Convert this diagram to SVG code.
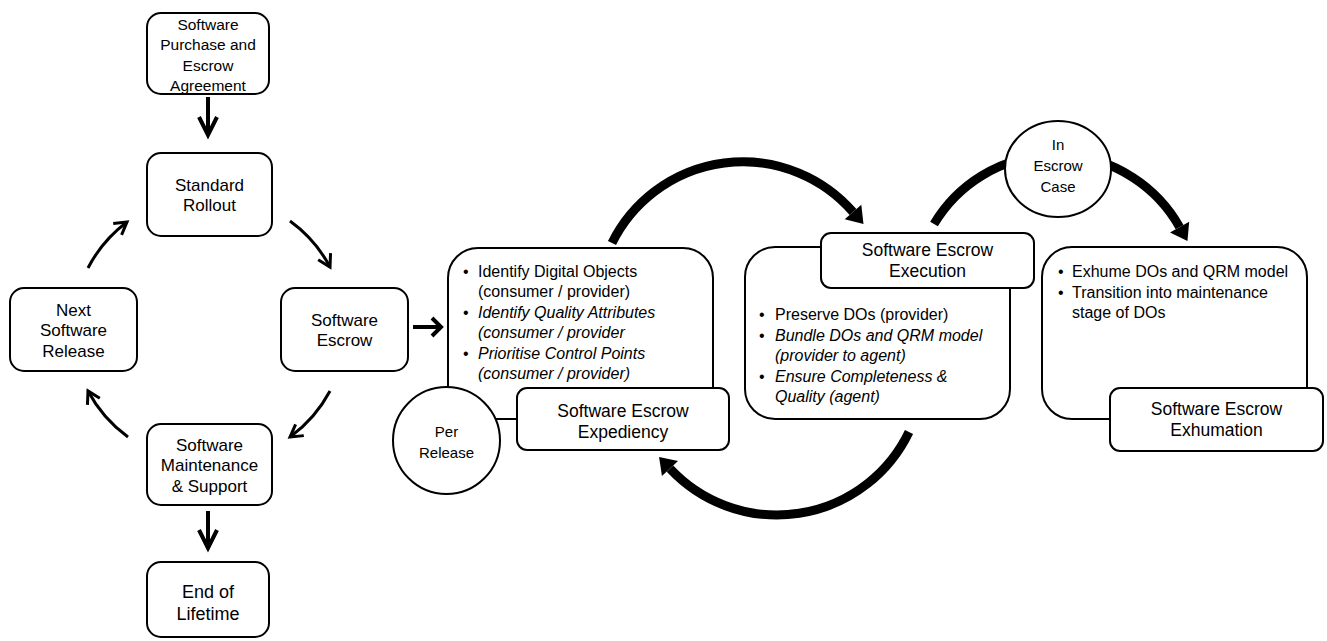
<svg xmlns="http://www.w3.org/2000/svg" width="1327" height="641" viewBox="0 0 1327 641">
<style>
text{font-family:"Liberation Sans",Arial,sans-serif;fill:#000}
.box{fill:#fff;stroke:#000;stroke-width:2}
.lbl{font-size:17px;text-anchor:middle}
.sub{font-size:17.5px;text-anchor:middle}
.cir{font-size:15px;text-anchor:middle}
.bl{font-size:16px}
.it{font-style:italic}
.thin{fill:none;stroke:#000;stroke-width:3}
.med{fill:none;stroke:#000;stroke-width:4}
.thick{fill:none;stroke:#000;stroke-width:9}
</style>
<defs>
<marker id="chevL" markerUnits="userSpaceOnUse" markerWidth="30" markerHeight="30" orient="auto" overflow="visible" refX="0" refY="0"><path d="M-18,-9 L0,0 L-18,9" fill="none" stroke="#000" stroke-width="4"/></marker>
<marker id="chevS" markerUnits="userSpaceOnUse" markerWidth="30" markerHeight="30" orient="auto" overflow="visible" refX="0" refY="0"><path d="M-9,-9 L0,0 L-9,9" fill="none" stroke="#000" stroke-width="4"/></marker>
<marker id="chevC" markerUnits="userSpaceOnUse" markerWidth="30" markerHeight="30" orient="auto" overflow="visible" refX="0" refY="0"><path d="M-12,-7 L0,0 L-12,7" fill="none" stroke="#000" stroke-width="3"/></marker>
<marker id="tri" markerUnits="userSpaceOnUse" markerWidth="30" markerHeight="30" orient="auto" overflow="visible" refX="0" refY="0"><path d="M0,-11 L16,0 L0,11 Z" fill="#000"/></marker>
</defs>

<g id="connectors">
<path class="med" d="M208,97 L208,135" marker-end="url(#chevL)"/>
<path class="med" d="M208,511 L208,548" marker-end="url(#chevL)"/>
<path class="med" d="M413,327 L441,327" marker-end="url(#chevS)"/>
<path class="thin" d="M88,268 A135,135 0 0 1 127,222" marker-end="url(#chevC)"/>
<path class="thin" d="M290,221 A135,135 0 0 1 330,267" marker-end="url(#chevC)"/>
<path class="thin" d="M330,391 A135,135 0 0 1 290,437" marker-end="url(#chevC)"/>
<path class="thin" d="M128,437 A135,135 0 0 1 88,391" marker-end="url(#chevC)"/>
<path class="thick" d="M612,243 A146,146 0 0 1 853,212" marker-end="url(#tri)"/>
<path class="thick" d="M934,224 A142,142 0 0 1 1179.6,227.1" marker-end="url(#tri)"/>
<path class="thick" d="M909,432 A146.5,146.5 0 0 1 670,468.6" marker-end="url(#tri)"/>
</g>

<g id="purchase">
<rect class="box" x="147" y="13" width="122" height="81" rx="14"/>
<text class="lbl" style="font-size:15.5px" x="208" y="30">Software</text>
<text class="lbl" style="font-size:15.5px" x="208" y="50">Purchase and</text>
<text class="lbl" style="font-size:15.5px" x="208" y="71">Escrow</text>
<text class="lbl" style="font-size:15.5px" x="208" y="91">Agreement</text>
</g>

<g id="standard">
<rect class="box" x="147" y="153" width="125" height="83" rx="14"/>
<text class="lbl" x="209.5" y="191">Standard</text>
<text class="lbl" x="209.5" y="211">Rollout</text>
</g>

<g id="escrow">
<rect class="box" x="281" y="288" width="127" height="83" rx="14"/>
<text class="lbl" x="344.5" y="326">Software</text>
<text class="lbl" x="344.5" y="346">Escrow</text>
</g>

<g id="next">
<rect class="box" x="10" y="288" width="127" height="83" rx="14"/>
<text class="lbl" x="73.5" y="316">Next</text>
<text class="lbl" x="73.5" y="336">Software</text>
<text class="lbl" x="73.5" y="357">Release</text>
</g>

<g id="maintenance">
<rect class="box" x="147" y="424" width="125" height="81" rx="14"/>
<text class="lbl" x="209.5" y="451">Software</text>
<text class="lbl" x="209.5" y="471">Maintenance</text>
<text class="lbl" x="209.5" y="491.5">&amp; Support</text>
</g>

<g id="end">
<rect class="box" x="147" y="562" width="122" height="75" rx="14"/>
<text class="lbl" style="font-size:18px" x="208" y="598">End of</text>
<text class="lbl" style="font-size:18px" x="208" y="620">Lifetime</text>
</g>

<g id="expediency">
<rect class="box" x="448" y="248" width="265" height="171" rx="30"/>
<text class="bl" x="463" y="277">•</text>
<text class="bl" x="478" y="277">Identify Digital Objects</text>
<text class="bl" x="478" y="297">(consumer / provider)</text>
<text class="bl" x="463" y="318">•</text>
<text class="bl it" x="478" y="318">Identify Quality Attributes</text>
<text class="bl it" x="478" y="338">(consumer / provider</text>
<text class="bl" x="463" y="359">•</text>
<text class="bl it" x="478" y="359">Prioritise Control Points</text>
<text class="bl it" x="478" y="379">(consumer / provider)</text>
<rect class="box" x="517" y="388" width="212" height="62" rx="10"/>
<text class="sub" x="623" y="417">Software Escrow</text>
<text class="sub" x="623" y="437.5">Expediency</text>
</g>

<g id="per-release">
<circle class="box" cx="446.5" cy="440.5" r="53.5"/>
<text class="cir" x="446.5" y="437">Per</text>
<text class="cir" x="446.5" y="458">Release</text>
</g>

<g id="execution">
<rect class="box" x="745" y="247" width="265" height="172" rx="30"/>
<rect class="box" x="821" y="233" width="213" height="55" rx="10"/>
<text class="sub" x="927.5" y="256">Software Escrow</text>
<text class="sub" x="927.5" y="277">Execution</text>
<text class="bl" x="759" y="320">•</text>
<text class="bl" x="775" y="320">Preserve DOs (provider)</text>
<text class="bl" x="759" y="341">•</text>
<text class="bl it" x="775" y="341">Bundle DOs and QRM model</text>
<text class="bl it" x="775" y="361">(provider to agent)</text>
<text class="bl" x="759" y="382">•</text>
<text class="bl it" x="775" y="382">Ensure Completeness &amp;</text>
<text class="bl it" x="775" y="402">Quality (agent)</text>
</g>

<g id="in-escrow-case">
<ellipse class="box" cx="1058" cy="169" rx="53" ry="48"/>
<text class="cir" x="1058" y="150">In</text>
<text class="cir" x="1058" y="171">Escrow</text>
<text class="cir" x="1058" y="192">Case</text>
</g>

<g id="exhumation">
<rect class="box" x="1042" y="247" width="265" height="172" rx="30"/>
<text class="bl" x="1058" y="277">•</text>
<text class="bl" x="1072" y="277">Exhume DOs and QRM model</text>
<text class="bl" x="1058" y="298">•</text>
<text class="bl" x="1072" y="298">Transition into maintenance</text>
<text class="bl" x="1072" y="318">stage of DOs</text>
<rect class="box" x="1110" y="388" width="213" height="63" rx="10"/>
<text class="sub" x="1216.5" y="415">Software Escrow</text>
<text class="sub" x="1216.5" y="436">Exhumation</text>
</g>
</svg>
